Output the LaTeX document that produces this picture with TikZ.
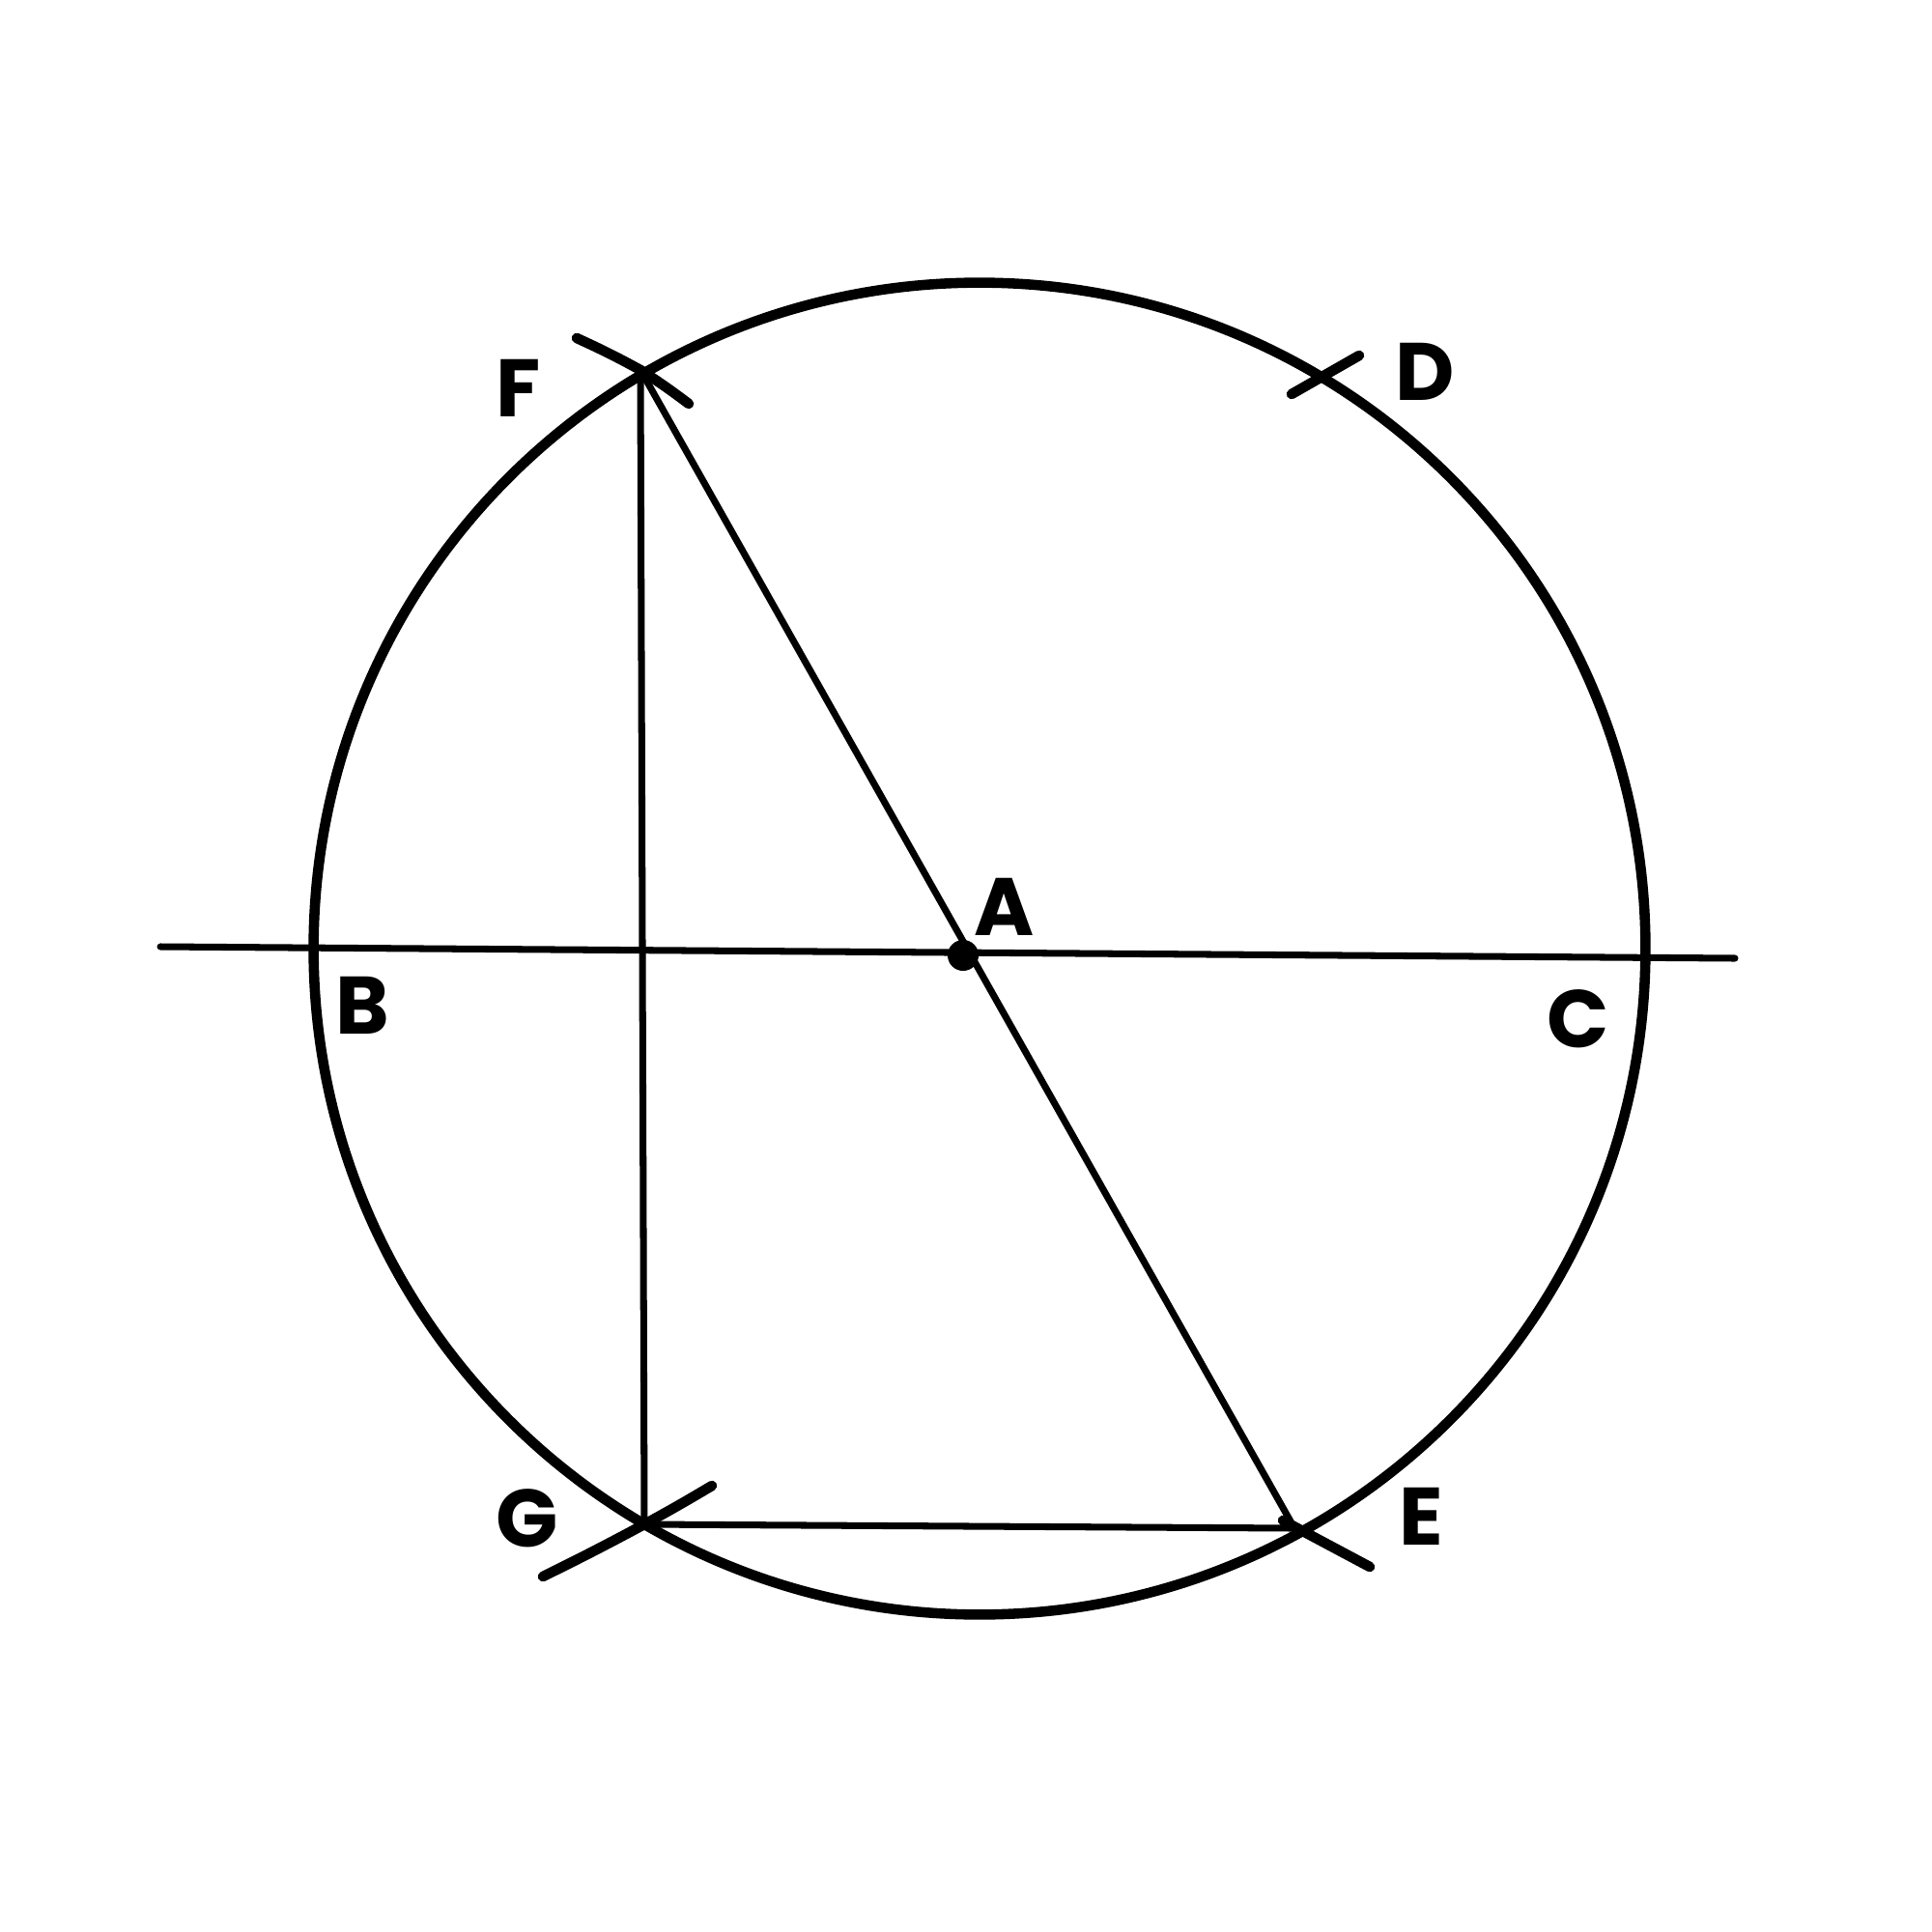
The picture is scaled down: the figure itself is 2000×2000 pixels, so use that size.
\documentclass[tikz,border=0pt]{standalone}
\usepackage{fontspec}
\setmainfont{Poppins}
\begin{document}
\begin{tikzpicture}[x=0.01cm,y=-0.01cm,
  thick line/.style={line width=3pt,line cap=round},
  thin line/.style={line width=2pt,line cap=round},
  lbl/.style={font=\fontsize{24}{29}\selectfont\bfseries,inner sep=0pt}]
\useasboundingbox (0,0) rectangle (2000,2000);
% key points
\coordinate (O) at (1014,982);
\coordinate (A) at (997,989);
\coordinate (F) at (663,383);
\coordinate (G) at (667,1578);
\coordinate (E) at (1340,1582);
\coordinate (L1) at (166,980);
\coordinate (L2) at (1796,992);
% circle
\draw[thick line] (O) circle[radius=6.89cm];
% horizontal diameter line
\draw[thin line] (L1) -- (L2);
% lines of the triangle
\draw[thin line] (F) -- (G);
\draw[thin line] (F) -- (E);
\draw[thin line] (G) -- (E);
% compass arcs
\coordinate (f1) at (597,350); \coordinate (f2) at (713,418);
\draw[thick line] (f1) to[bend left=2] (F) to[bend left=2] (f2);
\coordinate (g1) at (562,1632); \coordinate (g2) at (737,1538);
\draw[thick line] (g1) to[bend right=1] (G) to[bend right=1] (g2);
\coordinate (e1) at (1328,1574); \coordinate (e2) at (1418,1622);
\draw[thick line] (e1) -- (e2);
\coordinate (d1) at (1337,408); \coordinate (d2) at (1407,368);
\draw[thick line] (d1) -- (d2);
% centre dot
\fill (A) circle[radius=0.16cm];
% labels
\node[lbl] (lF) at (537,402) {F};
\node[lbl] (lD) at (1475,385) {D};
\node[lbl] (lA) at (1040,939) {A};
\node[lbl] (lB) at (375,1041) {B};
\node[lbl] (lC) at (1634,1055) {C};
\node[lbl] (lG) at (546,1572) {G};
\node[lbl] (lE) at (1471,1570) {E};
\end{tikzpicture}
\end{document}
